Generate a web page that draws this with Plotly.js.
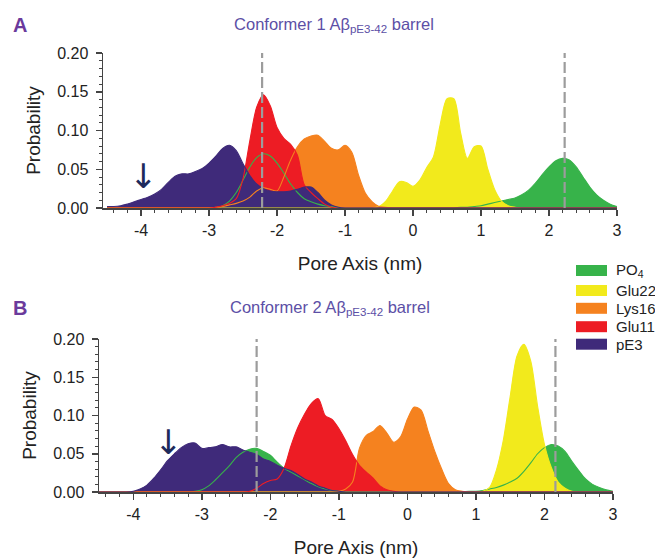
<!DOCTYPE html>
<html><head><meta charset="utf-8">
<script src="https://cdn.plot.ly/plotly-3.0.1.min.js"></script>
<style>html,body{margin:0;padding:0;background:#fff}#chart{width:655px;height:560px}</style>
</head><body><div id="chart"></div>
<script>
// Pore axis sample positions (nm)
const poreAxis = [-4.5,-4.4,-4.3,-4.2,-4.1,-4.0,-3.9,-3.8,-3.7,-3.6,
  -3.5,-3.4,-3.3,-3.2,-3.1,-3.0,-2.9,-2.8,-2.7,-2.6,
  -2.5,-2.4,-2.3,-2.2,-2.1,-2.0,-1.9,-1.8,-1.7,-1.6,
  -1.5,-1.4,-1.3,-1.2,-1.1,-1.0,-0.9,-0.8,-0.7,-0.6,
  -0.5,-0.4,-0.3,-0.2,-0.1,0.0,0.1,0.2,0.3,0.4,
  0.5,0.6,0.7,0.8,0.9,1.0,1.1,1.2,1.3,1.4,
  1.5,1.6,1.7,1.8,1.9,2.0,2.1,2.2,2.3,2.4,
  2.5,2.6,2.7,2.8,2.9,3.0];

const seriesNames = ['PO<sub>4</sub>','Glu22','Lys16','Glu11','pE3'];
const seriesColors = ['#37b34a','#f2ea1c','#f5821f','#ed1c24','#3f2a7a'];

// Panel A: Conformer 1
const po4A = [0,0,0,0,0,0,0,0,0,0,
  0,0,0,0,0,0,0,0.003,0.009,0.020,
  0.036,0.053,0.065,0.070,0.067,0.058,0.045,0.031,0.020,0.012,
  0.008,0.005,0.003,0.002,0.001,0,0,0,0,0,
  0,0,0,0,0,0,0,0,0,0,
  0,0,0.001,0.001,0.002,0.003,0.005,0.007,0.009,0.011,
  0.013,0.017,0.023,0.032,0.043,0.053,0.061,0.064,0.062,0.053,
  0.040,0.027,0.017,0.010,0.005,0.002];
const glu22A = [0,0,0,0,0,0,0,0,0,0,
  0,0,0,0,0,0,0,0,0,0,
  0,0,0,0,0,0,0,0,0,0,
  0,0,0,0,0,0,0,0,0,0,
  0.002,0.009,0.022,0.034,0.033,0.028,0.036,0.052,0.066,0.108,
  0.141,0.141,0.097,0.064,0.079,0.080,0.050,0.024,0.009,0.003,
  0.001,0,0,0,0,0,0,0,0,0,
  0,0,0,0,0,0];
const lys16A = [0,0,0,0,0,0,0,0,0,0,
  0,0,0,0,0,0,0.001,0.002,0.004,0.006,
  0.009,0.014,0.022,0.026,0.024,0.022,0.040,0.062,0.079,0.089,
  0.093,0.094,0.086,0.077,0.075,0.081,0.072,0.042,0.019,0.008,
  0.002,0.001,0,0,0,0,0,0,0,0,
  0,0,0,0,0,0,0,0,0,0,
  0,0,0,0,0,0,0,0,0,0,
  0,0,0,0,0,0];
const glu11A = [0,0,0,0,0,0,0,0,0,0,
  0,0,0,0,0,0,0.001,0.003,0.006,0.012,
  0.038,0.087,0.130,0.146,0.132,0.104,0.090,0.082,0.068,0.030,
  0.020,0.012,0.005,0.001,0,0,0,0,0,0,
  0,0,0,0,0,0,0,0,0,0,
  0,0,0,0,0,0,0,0,0,0,
  0,0,0,0,0,0,0,0,0,0,
  0,0,0,0,0,0];
const pe3A = [0.002,0.002,0.003,0.005,0.008,0.011,0.014,0.018,0.024,0.033,
  0.041,0.044,0.044,0.047,0.051,0.058,0.067,0.077,0.081,0.074,
  0.057,0.042,0.031,0.025,0.022,0.021,0.021,0.022,0.024,0.027,
  0.027,0.020,0.010,0.004,0.001,0,0,0,0,0,
  0,0,0,0,0,0,0,0,0,0,
  0,0,0,0,0,0,0,0,0,0,
  0,0,0,0,0,0,0,0,0,0,
  0,0,0,0,0,0];

// Panel B: Conformer 2
const po4B = [0,0,0,0,0,0,0,0,0,0,
  0,0,0,0,0.001,0.003,0.008,0.016,0.025,0.034,
  0.045,0.052,0.056,0.057,0.053,0.048,0.039,0.031,0.026,0.021,
  0.016,0.011,0.007,0.004,0.002,0.001,0,0,0,0,
  0,0,0,0,0,0,0,0,0,0,
  0,0,0,0,0.001,0.001,0.002,0.004,0.006,0.009,
  0.013,0.018,0.027,0.038,0.050,0.058,0.062,0.060,0.053,0.040,
  0.028,0.017,0.010,0.006,0.003,0.001];
const glu22B = [0,0,0,0,0,0,0,0,0,0,
  0,0,0,0,0,0,0,0,0,0,
  0,0,0,0,0,0,0,0,0,0,
  0,0,0,0,0,0,0,0,0,0,
  0,0,0,0,0,0,0,0,0,0,
  0,0,0,0,0,0,0.001,0.006,0.029,0.068,
  0.125,0.178,0.193,0.171,0.112,0.062,0.032,0.013,0.005,0.001,
  0,0,0,0,0,0];
const lys16B = [0,0,0,0,0,0,0,0,0,0,
  0,0,0,0,0,0,0,0,0,0,
  0,0,0,0,0,0,0,0,0,0,
  0,0,0,0,0,0.001,0.004,0.013,0.057,0.074,
  0.079,0.087,0.077,0.065,0.072,0.095,0.111,0.107,0.080,0.053,
  0.030,0.011,0.003,0.001,0,0,0,0,0,0,
  0,0,0,0,0,0,0,0,0,0,
  0,0,0,0,0,0];
const glu11B = [0,0,0,0,0,0,0,0,0,0,
  0,0,0,0,0,0,0,0,0,0,
  0,0,0.001,0.005,0.011,0.015,0.017,0.031,0.060,0.084,
  0.102,0.116,0.122,0.100,0.095,0.083,0.067,0.049,0.035,0.026,
  0.018,0.008,0.003,0.001,0,0,0,0,0,0,
  0,0,0,0,0,0,0,0,0,0,
  0,0,0,0,0,0,0,0,0,0,
  0,0,0,0,0,0];
const pe3B = [0,0,0,0,0,0.001,0.004,0.009,0.018,0.029,
  0.041,0.050,0.058,0.063,0.064,0.057,0.058,0.059,0.062,0.059,
  0.059,0.055,0.052,0.049,0.043,0.040,0.035,0.031,0.028,0.023,
  0.017,0.013,0.008,0.005,0.002,0.001,0,0,0,0,
  0,0,0,0,0,0,0,0,0,0,
  0,0,0,0,0,0,0,0,0,0,
  0,0,0,0,0,0,0,0,0,0,
  0,0,0,0,0,0];

const poreEdgesA = [-2.22, 2.23];
const poreEdgesB = [-2.20, 2.16];
const xTickVals = [-4,-3,-2,-1,0,1,2,3];
const xTickText = ['-4','-3','-2','-1','0','1','2','3'];
const yTickVals = [0,0.05,0.10,0.15,0.20];
const yTickText = ['0.00','0.05','0.10','0.15','0.20'];
const arrowA = {x:-3.97, y:0.041};
const arrowB = {x:-3.48, y:0.065};

const panelA = [po4A, glu22A, lys16A, glu11A, pe3A];
const panelB = [po4B, glu22B, lys16B, glu11B, pe3B];

const FONT = 'Liberation Sans, Arial, Helvetica, sans-serif';
const W = 655, H = 560;

const traces = [];
function addPanel(data, xa, ya) {
  data.forEach((ys, i) => {
    traces.push({x: poreAxis, y: ys, xaxis: xa, yaxis: ya, type: 'scatter', mode: 'lines',
      name: seriesNames[i], fill: 'tozeroy', fillcolor: seriesColors[i],
      line: {color: seriesColors[i], width: 0, shape: 'spline', smoothing: 0.8},
      showlegend: false, hoverinfo: 'skip'});
  });
  data.forEach((ys, i) => {
    traces.push({x: poreAxis, y: ys, xaxis: xa, yaxis: ya, type: 'scatter', mode: 'lines',
      name: seriesNames[i],
      line: {color: seriesColors[i], width: 1.1, shape: 'spline', smoothing: 0.8},
      showlegend: false, hoverinfo: 'skip'});
  });
}
addPanel(panelA, 'x', 'y');
addPanel(panelB, 'x2', 'y2');

function xAxis(domain, range, anchor) {
  return {domain: domain, anchor: anchor, range: range, tickvals: xTickVals, ticktext: xTickText,
    ticks: 'outside', ticklen: 6, tickwidth: 1.5, tickcolor: '#444',
    minor: {dtick: 0.2, tick0: 0, ticks: 'outside', ticklen: 3, tickwidth: 1, tickcolor: '#444', showgrid: false},
    showline: true, linecolor: '#444', linewidth: 1.5, showgrid: false, zeroline: false,
    tickfont: {family: FONT, size: 16, color: '#222'}, ticklabelstandoff: 1,
    title: {text: 'Pore Axis (nm)', font: {family: FONT, size: 19, color: '#222'}, standoff: 19},
    fixedrange: true};
}
function yAxis(domain, anchor) {
  return {domain: domain, anchor: anchor, range: [0, 0.2], tickvals: yTickVals, ticktext: yTickText,
    ticks: 'outside', ticklen: 6, tickwidth: 1.5, tickcolor: '#444',
    minor: {dtick: 0.01, tick0: 0, ticks: 'outside', ticklen: 3, tickwidth: 1, tickcolor: '#444', showgrid: false},
    showline: true, linecolor: '#444', linewidth: 1.5, showgrid: false, zeroline: false,
    tickfont: {family: FONT, size: 16, color: '#222'}, ticklabelstandoff: 4,
    title: {text: 'Probability', font: {family: FONT, size: 19, color: '#222'}, standoff: 11},
    fixedrange: true};
}

const shapes = [];
function dashed(edges, xref, yref) {
  edges.forEach(v => shapes.push({type: 'line', xref: xref, yref: yref, x0: v, x1: v, y0: 0, y1: 0.2,
    line: {color: '#9c9c9c', width: 2.2, dash: '11px,4px'}}));
}
dashed(poreEdgesA, 'x', 'y');
dashed(poreEdgesB, 'x2', 'y2');

const annotations = [];
// legend (manual, shared between panels)
const legendRows = [270.5, 290.5, 308.3, 326.7, 344.2];
seriesNames.forEach((nm, i) => {
  const cy = legendRows[i];
  shapes.push({type: 'rect', xref: 'paper', yref: 'paper', x0: 576 / W, x1: 607 / W,
    y0: 1 - (cy + 5.5) / H, y1: 1 - (cy - 5.5) / H, fillcolor: seriesColors[i], line: {width: 0}});
  annotations.push({xref: 'paper', yref: 'paper', x: 614 / W, y: 1 - cy / H, xanchor: 'left', yanchor: 'middle',
    text: nm, showarrow: false, font: {family: FONT, size: 15, color: '#222'}});
});
// panel letters
annotations.push({xref: 'paper', yref: 'paper', x: 20 / W, y: 1 - 25 / H, xanchor: 'center', yanchor: 'middle',
  text: '<b>A</b>', showarrow: false, font: {family: FONT, size: 20, color: '#6b3a9c'}});
annotations.push({xref: 'paper', yref: 'paper', x: 20 / W, y: 1 - 308 / H, xanchor: 'center', yanchor: 'middle',
  text: '<b>B</b>', showarrow: false, font: {family: FONT, size: 20, color: '#6b3a9c'}});
// panel B title
annotations.push({xref: 'paper', yref: 'paper', x: 330 / W, y: 1 - 308 / H, xanchor: 'center', yanchor: 'middle',
  text: 'Conformer 2 Aβ<sub>pE3-42</sub> barrel', showarrow: false, font: {family: FONT, size: 16.5, color: '#5c4fa6'}});
// arrows (as glyphs)
[[arrowA, 'x', 'y'], [arrowB, 'x2', 'y2']].forEach(([a, xr, yr]) => {
  annotations.push({xref: xr, yref: yr, x: a.x, y: a.y, xanchor: 'center', yanchor: 'middle',
    text: '↓', showarrow: false, font: {family: 'DejaVu Sans, sans-serif', size: 34, color: '#1d2a5c'}});
});

const layout = {
  width: W, height: H, margin: {l: 0, r: 0, t: 0, b: 0},
  paper_bgcolor: '#fff', plot_bgcolor: 'rgba(0,0,0,0)',
  font: {family: FONT, color: '#222'},
  showlegend: false,
  title: {text: 'Conformer 1 Aβ<sub>pE3-42</sub> barrel', x: 334 / W, y: 1 - 24 / H, xanchor: 'center', yanchor: 'middle',
    font: {family: FONT, size: 16.5, color: '#5c4fa6'}},
  xaxis: xAxis([103 / W, 617 / W], [-4.56, 3], 'y'),
  yaxis: yAxis([1 - 208 / H, 1 - 53 / H], 'x'),
  xaxis2: xAxis([99 / W, 613 / W], [-4.5, 3], 'y2'),
  yaxis2: yAxis([1 - 492 / H, 1 - 339 / H], 'x2'),
  shapes: shapes, annotations: annotations
};

Plotly.newPlot('chart', traces, layout, {displayModeBar: false, staticPlot: true});
</script>
</body></html>
